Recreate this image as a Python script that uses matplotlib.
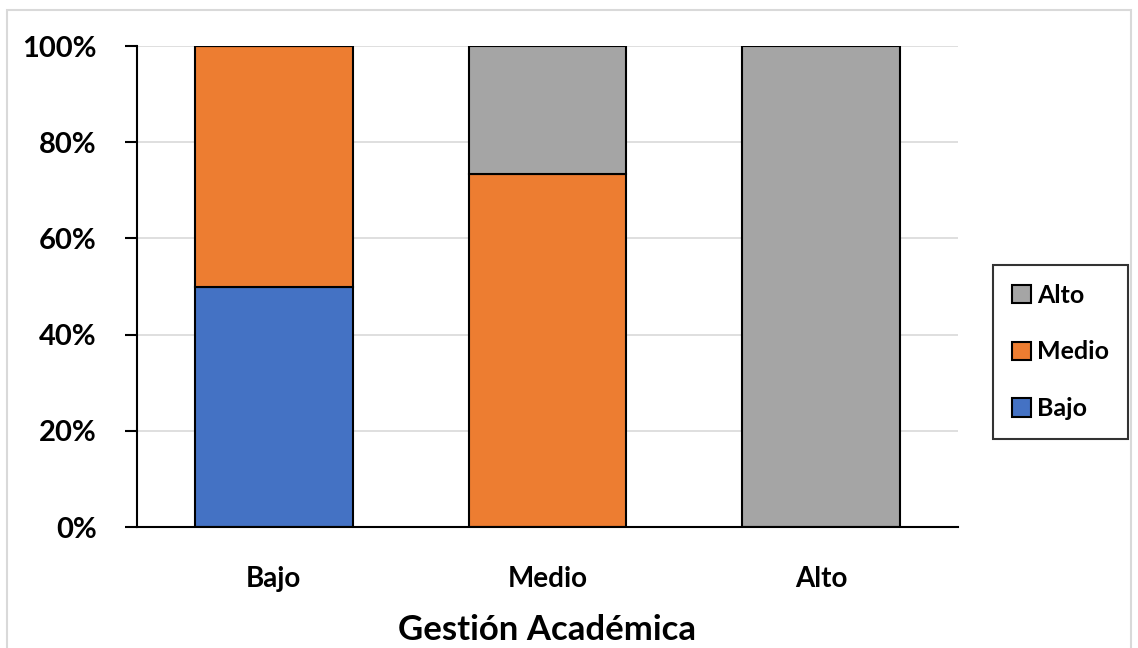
import matplotlib.pyplot as plt
from matplotlib.patches import Rectangle
from matplotlib.ticker import PercentFormatter
import numpy as np

categories = ['Bajo', 'Medio', 'Alto']
bajo = [50.0, 0.0, 0.0]
medio = [50.0, 73.3, 0.0]
alto = [0.0, 26.7, 100.0]

colors = {'Bajo': '#4472C4', 'Medio': '#ED7D31', 'Alto': '#A5A5A5'}

plt.rcParams['font.family'] = ['Lato', 'DejaVu Sans']
plt.rcParams['font.weight'] = 'bold'

fig = plt.figure(figsize=(11.38, 6.48), dpi=100)
ax = fig.add_axes([0.1204, 0.1867, 0.7214, 0.7423])

# light frame around the whole chart
fig.patches.append(Rectangle((0.006, -0.02), 0.988, 1.004, transform=fig.transFigure,
                             fill=False, edgecolor='#d9d9d9', linewidth=1.5))

x = np.arange(len(categories))
w = 0.575
b1 = ax.bar(x, bajo, w, color=colors['Bajo'], edgecolor='black', linewidth=1.5, label='Bajo')
b2 = ax.bar(x, medio, w, bottom=bajo, color=colors['Medio'], edgecolor='black', linewidth=1.5, label='Medio')
bottom2 = np.array(bajo) + np.array(medio)
b3 = ax.bar(x, alto, w, bottom=bottom2, color=colors['Alto'], edgecolor='black', linewidth=1.5, label='Alto')

ax.set_xlim(-0.5, 2.5)
ax.set_ylim(0, 100)
ax.set_yticks(np.arange(0, 101, 20))
ax.yaxis.set_major_formatter(PercentFormatter(decimals=0))
ax.yaxis.grid(True, color='#d9d9d9', linewidth=1.2)
ax.set_axisbelow(True)

for s in ['top', 'right']:
    ax.spines[s].set_visible(False)
for s in ['left', 'bottom']:
    ax.spines[s].set_color('black')
    ax.spines[s].set_linewidth(1.5)

ax.set_xticks(x)
ax.set_xticklabels(categories)
ax.tick_params(axis='x', length=0, labelsize=20, pad=28)
ax.tick_params(axis='y', length=9, width=1.5, labelsize=21, pad=20)
ax.set_xlabel('Gestión Académica', fontsize=25, fontweight='bold', labelpad=16)

leg = ax.legend(handles=[b3, b2, b1], labels=['Alto', 'Medio', 'Bajo'],
                loc='center left', bbox_to_anchor=(1.028, 0.364),
                fontsize=18, frameon=True, fancybox=False, edgecolor='black',
                handlelength=0.75, handleheight=0.75, handletextpad=0.25,
                labelspacing=1.35, borderpad=0.75, borderaxespad=0.5)
leg.get_frame().set_linewidth(1.5)

fig.savefig('out.png', dpi=100)
